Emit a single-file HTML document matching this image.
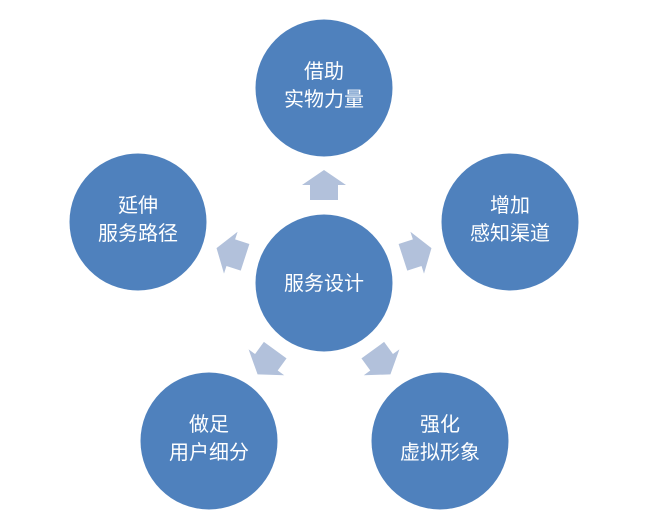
<!DOCTYPE html>
<html><head><meta charset="utf-8"><style>body{margin:0;background:#fff}</style></head>
<body>
<svg width="650" height="528" xmlns="http://www.w3.org/2000/svg" style="display:block;font-family:'Liberation Sans','Noto Sans CJK SC',sans-serif">
<defs>
<polygon id="ar" points="0,-113 22,-98 14,-98 14,-83 -14,-83 -14,-98 -22,-98" fill="#b2c1db"/>
</defs>
<g transform="translate(324,283)">
<use href="#ar"/>
<use href="#ar" transform="rotate(72)"/>
<use href="#ar" transform="rotate(144)"/>
<use href="#ar" transform="rotate(216)"/>
<use href="#ar" transform="rotate(288)"/>
</g>
<g fill="#4f81bd">
<circle cx="324" cy="283" r="68.5"/>
<circle cx="324" cy="88" r="68.5"/>
<circle cx="510" cy="222" r="68.5"/>
<circle cx="138" cy="222" r="68.5"/>
<circle cx="209" cy="441" r="68.5"/>
<circle cx="440" cy="441" r="68.5"/>
</g>
<g fill="#fff" font-size="20" text-anchor="middle">
<text x="324" y="290">服务设计</text>
<text x="324" y="78">借助</text><text x="324" y="106">实物力量</text>
<text x="510" y="212">增加</text><text x="510" y="240">感知渠道</text>
<text x="138" y="212">延伸</text><text x="138" y="240">服务路径</text>
<text x="209" y="431">做足</text><text x="209" y="459">用户细分</text>
<text x="440" y="431">强化</text><text x="440" y="459">虚拟形象</text>
</g>
</svg>
</body></html>
